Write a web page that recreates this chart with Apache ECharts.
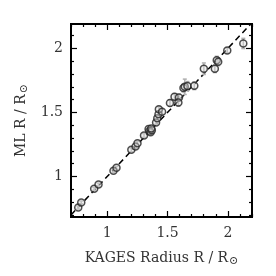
<!DOCTYPE html>
<html><head><meta charset="utf-8">
<script src="https://cdn.jsdelivr.net/npm/echarts@6/dist/echarts.min.js"></script>
<style>html,body{margin:0;padding:0;background:#fff}#c{width:276px;height:276px}</style>
</head><body><div id="c"></div>
<script>
const kagesR = [0.76,0.785,0.892,0.928,1.052,1.077,1.20,1.235,1.251,1.305,1.343,1.350,1.360,1.370,1.365,1.405,1.415,1.425,1.428,1.455,1.52,1.558,1.595,1.590,1.632,1.643,1.665,1.722,1.801,1.892,1.908,1.920,1.995,2.128];
const mlR    = [0.758,0.797,0.904,0.937,1.044,1.068,1.208,1.235,1.260,1.320,1.370,1.355,1.345,1.360,1.375,1.422,1.455,1.485,1.525,1.505,1.573,1.622,1.617,1.578,1.690,1.700,1.706,1.708,1.841,1.841,1.908,1.895,1.984,2.038];
const mlErr  = [0.012,0.012,0.012,0.012,0.012,0.012,0.015,0.015,0.015,0.015,0.015,0.015,0.015,0.015,0.015,0.015,0.02,0.02,0.02,0.02,0.025,0.025,0.025,0.03,0.03,0.06,0.035,0.03,0.045,0.03,0.03,0.03,0.02,0.04];
const majorTicks = [1, 1.5, 2];
const xMinorTicks = [0.7,0.8,0.9,1.1,1.2,1.3,1.4,1.6,1.7,1.8,1.9,2.1,2.2];
const yMinorTicks = [0.7,0.8,0.9,1.1,1.2,1.3,1.4,1.6,1.7,1.8,1.9,2.1];
const xRange = [0.7, 2.2];
const yRange = [0.684, 2.19];
const identityLine = [[0.7,0.7],[2.2,2.2]];

const font = 'DejaVu Serif';
const txt = '#333';
function mkAxis(kind, pos, vals, len, labels) {
  const r = kind === 'x' ? xRange : yRange;
  return {
    type:'value', position:pos, min:r[0], max:r[1],
    axisLine:{show:true, onZero:false, lineStyle:{color:'#000', width:2}},
    splitLine:{show:false},
    axisTick:{show:true, inside:true, length:len, customValues:vals, lineStyle:{color:'#000', width:1.2}},
    axisLabel: labels ? {show:true, customValues:vals, color:txt, fontFamily:font, fontSize:14, margin: kind==='x'?9:8, formatter:v=>String(v)} : {show:false},
    name: '',
  };
}
const xAxes = [
  Object.assign(mkAxis('x','bottom',majorTicks,6,true), {
    name:'KAGES Radius R / R{s|⊙}', nameLocation:'middle', nameGap:33,
    nameTextStyle:{fontFamily:font, fontSize:14, color:txt, rich:{s:{fontSize:11, fontFamily:font, color:txt, padding:[6,0,0,1]}}}
  }),
  mkAxis('x','bottom',xMinorTicks,3,false),
  mkAxis('x','top',majorTicks,6,false),
  mkAxis('x','top',xMinorTicks,3,false)
];
const yAxes = [
  Object.assign(mkAxis('y','left',majorTicks,6,true), {
    name:'ML R / R{s|⊙}', nameLocation:'middle', nameGap:31, nameRotate:90,
    nameTextStyle:{fontFamily:font, fontSize:14, color:txt, rich:{s:{fontSize:11, fontFamily:font, color:txt, padding:[6,0,0,1]}}}
  }),
  mkAxis('y','left',yMinorTicks,3,false),
  mkAxis('y','right',majorTicks,6,false),
  mkAxis('y','right',yMinorTicks,3,false)
];
const pts = kagesR.map((x,i)=>[x, mlR[i], mlErr[i]]);
const chart = echarts.init(document.getElementById('c'), null, {renderer:'canvas'});
chart.setOption({
  animation:false,
  grid:{left:71, right:24, top:24, bottom:59, containLabel:false},
  xAxis:xAxes, yAxis:yAxes,
  series:[
    {type:'line', data:identityLine, showSymbol:false, symbol:'none', xAxisIndex:0, yAxisIndex:0,
     lineStyle:{color:'#000', width:1.5, type:[6,4]}, z:1},
    {type:'custom', data:pts, xAxisIndex:0, yAxisIndex:0, z:2,
     renderItem:(params, api)=>{
       const x=api.value(0), y=api.value(1), e=api.value(2);
       const top=api.coord([x,y+e]), bot=api.coord([x,y-e]);
       const st={stroke:'#b0b0b0', lineWidth:1.5};
       return {type:'group', children:[
         {type:'line', shape:{x1:top[0],y1:top[1],x2:bot[0],y2:bot[1]}, style:st},
         {type:'line', shape:{x1:top[0]-2,y1:top[1],x2:top[0]+2,y2:top[1]}, style:st},
         {type:'line', shape:{x1:bot[0]-2,y1:bot[1],x2:bot[0]+2,y2:bot[1]}, style:st}
       ]};
     }},
    {type:'scatter', data:pts.map(p=>[p[0],p[1]]), xAxisIndex:0, yAxisIndex:0, z:3,
     symbol:'circle', symbolSize:7,
     itemStyle:{color:'rgba(220,220,220,0.5)', borderColor:'#222', borderWidth:1.5}}
  ]
});
</script></body></html>
